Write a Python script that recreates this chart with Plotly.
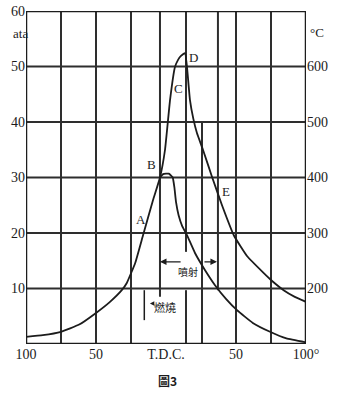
import plotly.graph_objects as go

# ---- data ----
crank_fire = [-100, -88, -75, -62, -50, -40, -31.6, -28, -22, -16.4, -9.3, -4.3, -0.7, 2.9, 6.4, 8.6,
              10.7, 13.6, 15.0, 17.1, 19.5, 22.1, 26.4, 32.9, 40.0, 48.6, 58, 69.3, 76, 84, 92, 100]
press_fire = [1.3, 1.6, 2.2, 3.5, 5.6, 7.6, 9.7, 11.0, 14.6, 19.6, 25.9, 30.0, 35.0, 44.0, 49.9, 51.2,
              51.9, 52.4, 49.9, 44.0, 40.6, 38.0, 35.0, 30.1, 25.0, 19.5, 15.8, 12.9, 11.3, 9.7, 8.5, 7.6]

crank_motor = [-4.3, -2.0, 2.0, 4.8, 6.0, 7.2, 9.0, 11.5, 15.0, 20.7, 27.9, 35.0, 43, 50.7, 62, 74.3, 86, 100]
press_motor = [30.0, 30.6, 30.7, 30.0, 28.2, 25.5, 23.2, 21.3, 19.6, 16.4, 13.3, 10.6, 8.1, 6.1, 3.8, 2.2, 1.0, 0.3]

x_tickvals = [-100, -50, 0, 50, 100]
x_ticktext = ["100", "50", "T.D.C.", "50", "100°"]
y_left_ticks = [10, 20, 30, 40, 50, 60]
y_right_ticks = [200, 300, 400, 500, 600]

point_labels = ["A", "B", "C", "D", "E"]
point_x = [-17.9, -10.7, 8.6, 19.3, 42.9]
point_y = [22.5, 32.4, 46.1, 51.7, 27.4]

serif = "Liberation Serif"
ink = "#1c1c1c"
grid_c = "#2e2e2e"

fig = go.Figure()
fig.add_trace(go.Scatter(x=crank_fire, y=press_fire, mode="lines",
                         line=dict(color=ink, width=1.8, shape="spline", smoothing=0.35),
                         showlegend=False, hoverinfo="skip"))
fig.add_trace(go.Scatter(x=crank_motor, y=press_motor, mode="lines",
                         line=dict(color=ink, width=1.8, shape="spline", smoothing=0.35),
                         showlegend=False, hoverinfo="skip"))
# invisible trace for right axis
fig.add_trace(go.Scatter(x=[None], y=[None], yaxis="y2", showlegend=False))

shapes = []
# horizontal grid
for yv in [10, 20, 30, 40, 50]:
    shapes.append(dict(type="line", xref="x", yref="y", x0=-100, x1=100, y0=yv, y1=yv,
                       line=dict(color=grid_c, width=2), layer="below"))
# vertical grid (irregular, as in the scan)
vgrid = [(-75, 0, 60), (-50, 0, 60), (-25, 0, 60), (-4.3, 8.5, 60), (14.3, 16.6, 60),
         (14.3, 0, 9.7), (25.7, 0, 40), (37.1, 9.7, 60), (50, 0, 60), (75, 0, 60)]
for xv, y0, y1 in vgrid:
    shapes.append(dict(type="line", xref="x", yref="y", x0=xv, x1=xv, y0=y0, y1=y1,
                       line=dict(color=grid_c, width=2), layer="below"))
# frame
shapes.append(dict(type="rect", xref="x", yref="y", x0=-100, x1=100, y0=0, y1=60,
                   line=dict(color=ink, width=2.5), layer="above"))
# combustion bracket
shapes.append(dict(type="line", xref="x", yref="y", x0=-15.5, x1=-15.5, y0=4.3, y1=9.7,
                   line=dict(color=ink, width=1.5)))

annotations = []
for t, xv, yv in zip(point_labels, point_x, point_y):
    annotations.append(dict(x=xv, y=yv, xref="x", yref="y", text=t, showarrow=False,
                            font=dict(family=serif, size=13, color=ink)))
# injection arrows
annotations.append(dict(x=-4.3, y=14.8, ax=11.5, ay=14.8, xref="x", yref="y", axref="x", ayref="y",
                        text="", showarrow=True, arrowhead=2, arrowsize=1, arrowwidth=1.3, arrowcolor=ink))
annotations.append(dict(x=36.4, y=14.8, ax=26.4, ay=14.8, xref="x", yref="y", axref="x", ayref="y",
                        text="", showarrow=True, arrowhead=2, arrowsize=1, arrowwidth=1.3, arrowcolor=ink))
annotations.append(dict(x=16, y=13.1, xref="x", yref="y", text="噴射", showarrow=False,
                        font=dict(family="Noto Sans CJK TC", size=10, color=ink)))
annotations.append(dict(x=-11.5, y=7.3, ax=-8.5, ay=7.3, xref="x", yref="y", axref="x", ayref="y",
                        text="", showarrow=True, arrowhead=2, arrowsize=0.8, arrowwidth=1.1, arrowcolor=ink))
annotations.append(dict(x=-0.5, y=6.6, xref="x", yref="y", text="燃燒", showarrow=False,
                        font=dict(family="Noto Sans CJK TC", size=11, color=ink)))
# unit labels
annotations.append(dict(x=-0.054, y=0.962, xref="paper", yref="paper", text="ata", showarrow=False,
                        font=dict(family=serif, size=13, color=ink)))
annotations.append(dict(x=1.071, y=0.965, xref="paper", yref="paper", text="°C", showarrow=False,
                        font=dict(family=serif, size=13, color=ink)))
annotations.append(dict(x=1.4, y=-0.141, xref="x", yref="paper", text="<b>圖3</b>", showarrow=False,
                        font=dict(family="Noto Sans CJK TC", size=12, color=ink)))

tickfont = dict(family=serif, size=14, color=ink)
fig.update_layout(
    width=338, height=400,
    margin=dict(l=26, r=32, t=11, b=56, autoexpand=False),
    paper_bgcolor="white", plot_bgcolor="white",
    shapes=shapes, annotations=annotations,
    xaxis=dict(range=[-100, 100], showgrid=False, zeroline=False, showline=False,
               tickvals=x_tickvals, ticktext=x_ticktext, ticks="", tickfont=tickfont,
               fixedrange=True),
    yaxis=dict(range=[0, 60], showgrid=False, zeroline=False, showline=False,
               tickvals=y_left_ticks, ticks="", tickfont=tickfont, fixedrange=True),
    yaxis2=dict(range=[100, 700], overlaying="y", side="right", showgrid=False, zeroline=False,
                showline=False, tickvals=y_right_ticks, ticks="", tickfont=tickfont, fixedrange=True),
)

fig.write_html("out.html")
